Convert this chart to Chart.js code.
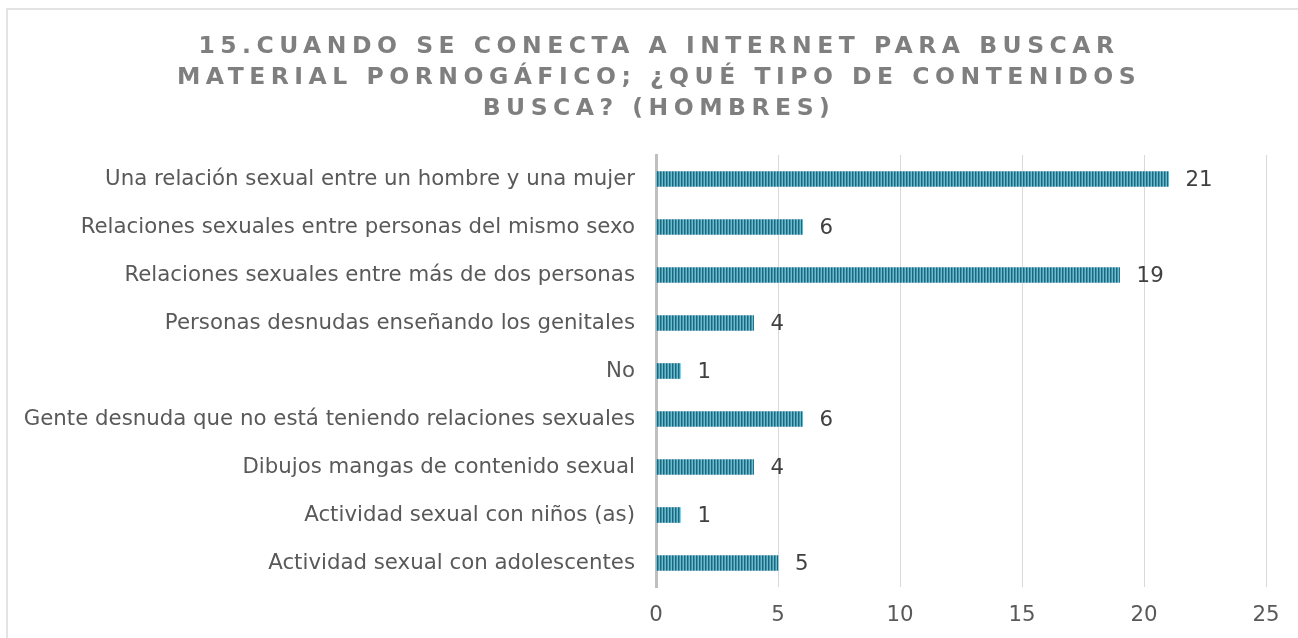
<html>
<head>
<style>
  body { margin: 0; background: #fff; overflow: hidden; }
  #frame { position: absolute; left: 6px; top: 8px; width: 1300px; height: 640px; border-left: 2px solid #e3e3e3; border-top: 2px solid #e3e3e3; }
  .chart-container { position: absolute; left: 0; top: 0; width: 1298px; height: 638px; }
</style>
</head>
<body>
<div id="frame"></div>
<div class="chart-container">
  <canvas id="chart"></canvas>
</div>

<script src="https://cdn.jsdelivr.net/npm/chart.js@4.4.1/dist/chart.umd.min.js"></script>
<script>
const titleLines = [
  '15.CUANDO SE CONECTA A INTERNET PARA BUSCAR',
  'MATERIAL PORNOGÁFICO; ¿QUÉ TIPO DE CONTENIDOS',
  'BUSCA? (HOMBRES)'
]
const categories = [
  'Una relación sexual entre un hombre y una mujer',
  'Relaciones sexuales entre personas del mismo sexo',
  'Relaciones sexuales entre más de dos personas',
  'Personas desnudas enseñando los genitales',
  'No',
  'Gente desnuda que no está teniendo relaciones sexuales',
  'Dibujos mangas de contenido sexual',
  'Actividad sexual con niños (as)',
  'Actividad sexual con adolescentes'
]
const values = [21, 6, 19, 4, 1, 6, 4, 1, 5]
const xTicks = [0, 5, 10, 15, 20, 25]

const FONT = "'DejaVu Sans', Verdana, sans-serif"

function stripePattern() {
  let c = document.createElement('canvas')
  c.width = 3
  c.height = 10
  let g = c.getContext('2d')
  g.fillStyle = '#6cbcd0'
  g.fillRect(0, 0, 3, 10)
  g.fillStyle = '#1a6880'
  g.fillRect(0, 0, 1.5, 10)
  return g.createPattern(c, 'repeat')
}

const titlePlugin = {
  id: 'spacedTitle',
  afterDraw(chart) {
    let ctx = chart.ctx
    ctx.save()
    ctx.font = "bold 23.5px " + FONT
    ctx.letterSpacing = '5.5px'
    ctx.fillStyle = '#7f7f7f'
    ctx.textAlign = 'center'
    ctx.textBaseline = 'middle'
    titleLines.forEach((t, i) => {
      ctx.fillText(t, 659, 47 + i * 31)
    })
    ctx.restore()
  }
}

const valueLabels = {
  id: 'valueLabels',
  afterDatasetsDraw(chart) {
    let ctx = chart.ctx
    let meta = chart.getDatasetMeta(0)
    ctx.save()
    ctx.font = '21.3px ' + FONT
    ctx.fillStyle = '#404040'
    ctx.textAlign = 'left'
    ctx.textBaseline = 'middle'
    meta.data.forEach((bar, i) => {
      ctx.fillText(values[i], bar.x + 17, bar.y + 1)
    })
    ctx.restore()
  }
}

const ctx = document.getElementById('chart').getContext('2d')
new Chart(ctx, {
  type: 'bar',
  data: {
    labels: categories,
    datasets: [{
      data: values,
      backgroundColor: stripePattern(),
      barThickness: 15,
      borderWidth: 0,
    }]
  },
  options: {
    indexAxis: 'y',
    responsive: true,
    maintainAspectRatio: false,
    animation: false,
    layout: { padding: { top: 155, right: 32, left: 0, bottom: 0 } },
    plugins: {
      legend: { display: false },
      tooltip: { enabled: false },
      title: { display: false },
    },
    scales: {
      x: {
        min: 0,
        max: 25,
        afterBuildTicks: s => { s.ticks = xTicks.map(v => ({ value: v })) },
        afterFit: s => { s.height = 51 },
        grid: {
          color: c => c.tick && c.tick.value === 0 ? 'rgba(0,0,0,0)' : '#d9d9d9',
          lineWidth: 1,
          drawTicks: false,
        },
        border: { display: false },
        ticks: { font: { family: FONT, size: 21.3 }, color: '#595959', padding: 16 },
      },
      y: {
        afterFit: s => { s.width = 656 },
        grid: { display: false, drawTicks: false },
        border: { display: true, color: '#bfbfbf', width: 3 },
        ticks: { font: { family: FONT, size: 21.3 }, color: '#595959', padding: 21, autoSkip: false },
      }
    }
  },
  plugins: [titlePlugin, valueLabels]
})
</script>
</body>
</html>
